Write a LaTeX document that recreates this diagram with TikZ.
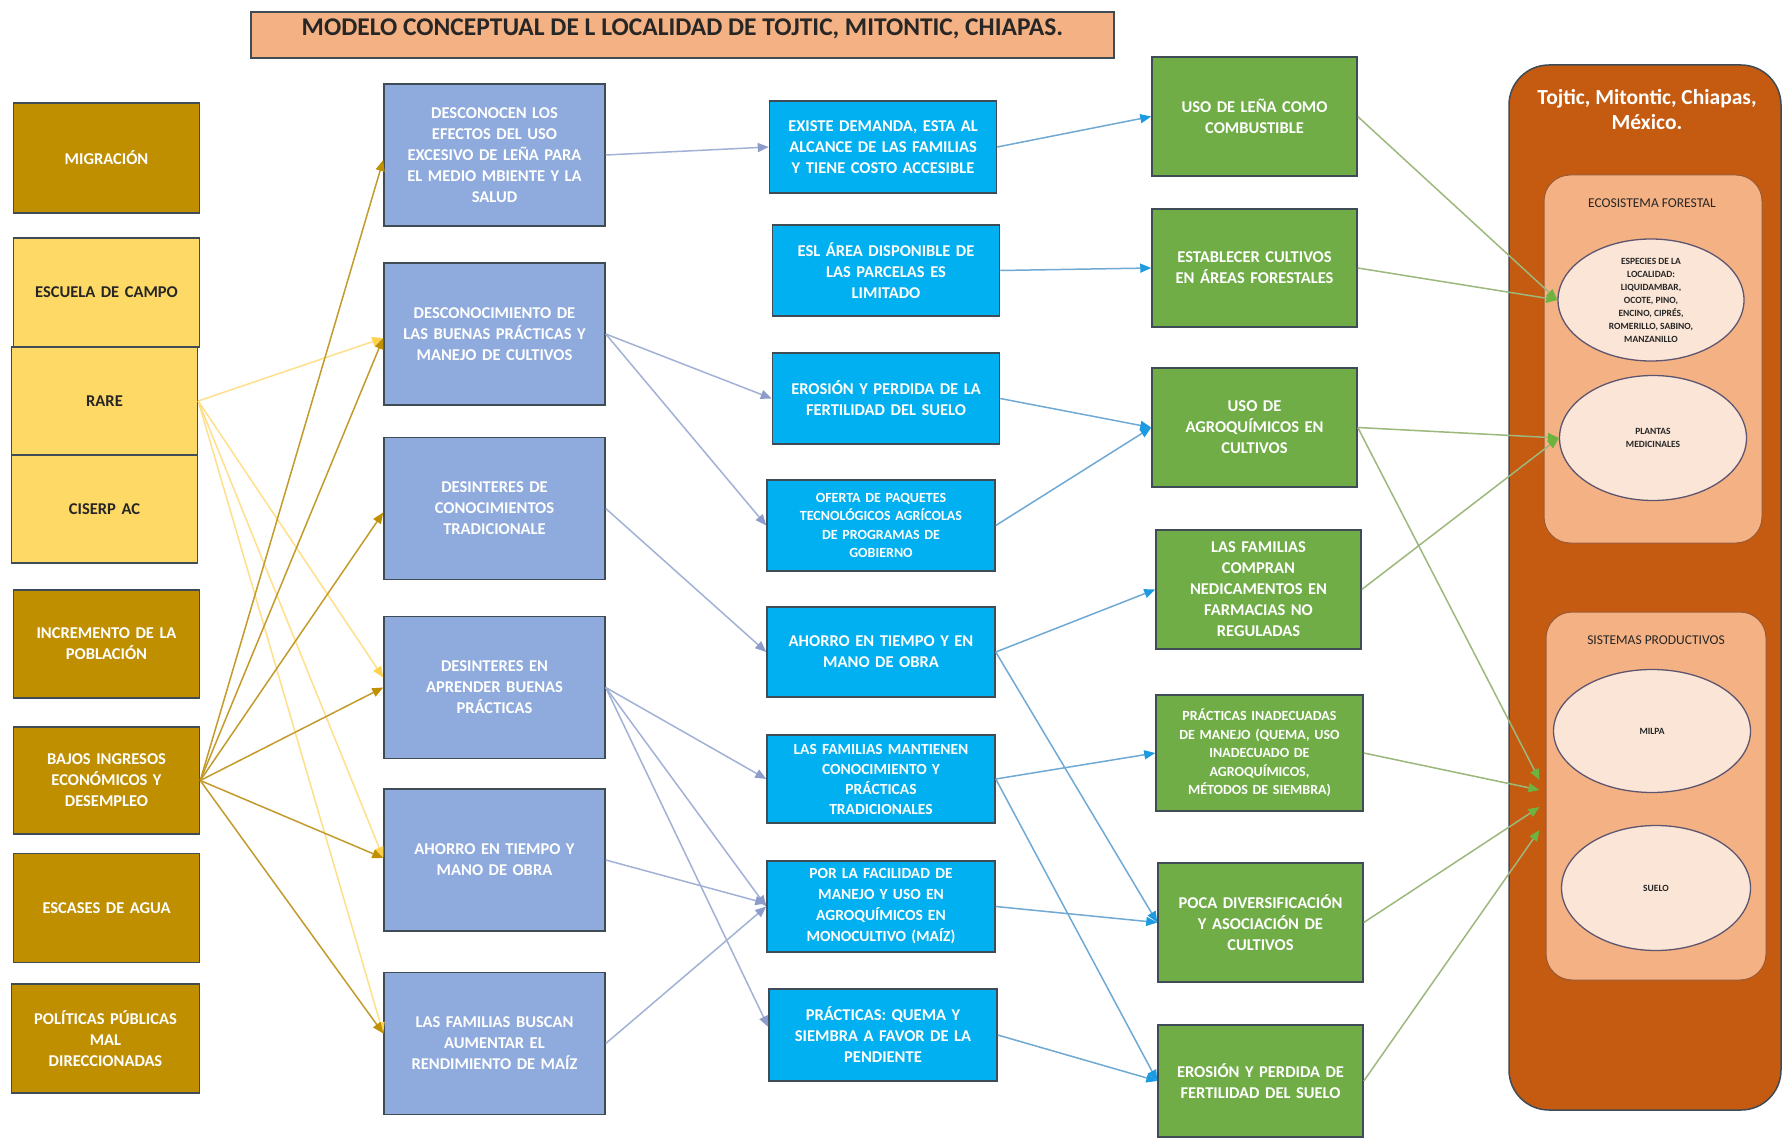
\documentclass[tikz,border=0pt]{standalone}
\usepackage{fontspec}
\setmainfont{Carlito}
\usetikzlibrary{arrows.meta,shapes.geometric,calc}
\definecolor{boxline}{HTML}{3F4B55}
\definecolor{goldfill}{HTML}{BF8F00}
\definecolor{yelfill}{HTML}{FFD966}
\definecolor{perifill}{HTML}{8FAADC}
\definecolor{skyfill}{HTML}{00B0F0}
\definecolor{grnfill}{HTML}{70AD47}
\definecolor{orgfill}{HTML}{C55A11}
\definecolor{peachfill}{HTML}{F4B183}
\definecolor{ellfill}{HTML}{FBE5D6}
\definecolor{ellline}{HTML}{5E5670}
\definecolor{innerline}{HTML}{9A5A35}
\definecolor{darktext}{HTML}{262626}
\definecolor{goldline}{HTML}{C39B2C}
\definecolor{goldhead}{HTML}{BF9000}
\definecolor{yelline}{HTML}{FFE08A}
\definecolor{yelhead}{HTML}{FFD24D}
\definecolor{periline}{HTML}{A2B1D6}
\definecolor{perihead}{HTML}{8E9CCB}
\definecolor{skyline}{HTML}{6FA9D4}
\definecolor{skyhead}{HTML}{1C9BE0}
\definecolor{grnline}{HTML}{9DB87C}
\definecolor{grnhead}{HTML}{6DB33F}
\begin{document}
\begin{tikzpicture}[x=1pt,y=-1pt,
  base/.style={draw=boxline, line width=1.5pt, align=center, inner sep=2pt,
    font=\bfseries\fontsize{16.5}{21}\selectfont},
  goldbox/.style={base, fill=goldfill, text=white, minimum width=186pt, minimum height=108pt, text width=180pt},
  yelbox/.style={base, fill=yelfill, text=darktext, minimum width=186pt, minimum height=108pt, text width=180pt},
  peribox/.style={base, fill=perifill, text=white, minimum width=221pt, minimum height=142pt, text width=215pt},
  skybox/.style={base, fill=skyfill, text=white, minimum width=227pt, minimum height=91pt, text width=222pt},
  grnbox/.style={base, fill=grnfill, text=white, minimum width=205pt, minimum height=118pt, text width=200pt},
  smalltxt/.style={font=\bfseries\fontsize{14}{18.5}\selectfont},
  ellbox/.style={ellipse, draw=ellline, line width=1.3pt, fill=ellfill, inner sep=0pt},
  elltxt/.style={font=\bfseries\fontsize{9.5}{13}\selectfont, text=darktext, align=center},
  innerbox/.style={draw=innerline, line width=1pt, fill=peachfill, rounded corners=26pt},
  conn/.style={line width=1.5pt},
  lgold/.style={conn, draw=goldline, -{Triangle[length=11pt,width=9pt,color=goldhead]}},
  lyel/.style={conn, draw=yelline, -{Triangle[length=11pt,width=9pt,color=yelhead]}},
  lperi/.style={conn, draw=periline, -{Triangle[length=11pt,width=9pt,color=perihead]}},
  lsky/.style={conn, draw=skyline, -{Triangle[length=11pt,width=9pt,color=skyhead]}},
  lgrn/.style={conn, draw=grnline, -{Triangle[length=11pt,width=9pt,color=grnhead]}}
]
\useasboundingbox (0,0) rectangle (1783,1139);
\fill[white] (0,0) rectangle (1783,1139);

% Title
\node[draw=boxline, line width=1.5pt, fill=peachfill, minimum width=863pt, minimum height=46pt,
  label={[yshift=6pt, font=\bfseries\fontsize{25.5}{28}\selectfont, text=darktext]center:MODELO CONCEPTUAL DE L LOCALIDAD DE TOJTIC, MITONTIC, CHIAPAS.}]
  (title) at (682.5,35) {};

% Column 1
\node[goldbox] (mig) at (106.5,158) [minimum height=110pt] {MIGRACIÓN};
\node[yelbox] (esc) at (106.5,292.5) [minimum height=109pt] {ESCUELA DE CAMPO};
\node[yelbox] (rare) at (104.5,401) {RARE};
\node[yelbox] (cis) at (104.5,509) {CISERP AC};
\node[goldbox] (inc) at (106.5,644) {INCREMENTO DE LA\\POBLACIÓN};
\node[goldbox] (baj) at (106.5,780.5) [minimum height=107pt] {BAJOS INGRESOS\\ECONÓMICOS Y\\DESEMPLEO};
\node[goldbox] (esca) at (106.5,908) [minimum height=109pt] {ESCASES DE AGUA};
\node[goldbox] (pol) at (105.5,1038.5) [minimum height=109pt, minimum width=188pt] {POLÍTICAS PÚBLICAS\\MAL\\DIRECCIONADAS};

% Column 2
\node[peribox] (d1) at (494.5,155) {DESCONOCEN LOS\\EFECTOS DEL USO\\EXCESIVO DE LEÑA PARA\\EL MEDIO MBIENTE Y LA\\SALUD};
\node[peribox] (d2) at (494.5,334) {DESCONOCIMIENTO DE\\LAS BUENAS PRÁCTICAS Y\\MANEJO DE CULTIVOS};
\node[peribox] (d3) at (494.5,508.5) {DESINTERES DE\\CONOCIMIENTOS\\TRADICIONALE};
\node[peribox] (d4) at (494.5,687.5) {DESINTERES EN\\APRENDER BUENAS\\PRÁCTICAS};
\node[peribox] (d5) at (494.5,860) {AHORRO EN TIEMPO Y\\MANO DE OBRA};
\node[peribox] (d6) at (494.5,1043.5) {LAS FAMILIAS BUSCAN\\AUMENTAR EL\\RENDIMIENTO DE MAÍZ};

% Column 3
\node[skybox] (c1) at (883,147) [minimum height=92pt] {EXISTE DEMANDA, ESTA AL\\ALCANCE DE LAS FAMILIAS\\Y TIENE COSTO ACCESIBLE};
\node[skybox] (c2) at (886,270.5) {ESL ÁREA DISPONIBLE DE\\LAS PARCELAS ES\\LIMITADO};
\node[skybox] (c3) at (886,398.5) {EROSIÓN Y PERDIDA DE LA\\FERTILIDAD DEL SUELO};
\node[skybox, smalltxt] (c4) at (881,525.5) [minimum width=228pt] {OFERTA DE PAQUETES\\TECNOLÓGICOS AGRÍCOLAS\\DE PROGRAMAS DE\\GOBIERNO};
\node[skybox] (c5) at (881,652) [minimum width=228pt, minimum height=90pt] {AHORRO EN TIEMPO Y EN\\MANO DE OBRA};
\node[skybox, font=\bfseries\fontsize{15.5}{20}\selectfont] (c6) at (881,779) [minimum width=228pt, minimum height=88pt] {LAS FAMILIAS MANTIENEN\\CONOCIMIENTO Y\\PRÁCTICAS\\TRADICIONALES};
\node[skybox, font=\bfseries\fontsize{15.5}{21}\selectfont] (c7) at (881,906.5) [minimum width=228pt] {POR LA FACILIDAD DE\\MANEJO Y USO EN\\AGROQUÍMICOS EN\\MONOCULTIVO (MAÍZ)};
\node[skybox] (c8) at (883,1035) [minimum width=228pt, minimum height=92pt] {PRÁCTICAS: QUEMA Y\\SIEMBRA A FAVOR DE LA\\PENDIENTE};

% Column 4
\node[grnbox] (g1) at (1254.5,116.5) [minimum height=119pt] {USO DE LEÑA COMO\\COMBUSTIBLE};
\node[grnbox] (g2) at (1254.5,268) {ESTABLECER CULTIVOS\\EN ÁREAS FORESTALES};
\node[grnbox] (g3) at (1254.5,427.5) [minimum height=119pt] {USO DE\\AGROQUÍMICOS EN\\CULTIVOS};
\node[grnbox] (g4) at (1258.5,589.5) [minimum height=119pt] {LAS FAMILIAS\\COMPRAN\\NEDICAMENTOS EN\\FARMACIAS NO\\REGULADAS};
\node[grnbox, smalltxt] (g5) at (1259.5,753) [minimum height=116pt, minimum width=207pt] {PRÁCTICAS INADECUADAS\\DE MANEJO (QUEMA, USO\\INADECUADO DE\\AGROQUÍMICOS,\\MÉTODOS DE SIEMBRA)};
\node[grnbox] (g6) at (1260.5,922.5) [minimum height=119pt] {POCA DIVERSIFICACIÓN\\Y ASOCIACIÓN DE\\CULTIVOS};
\node[grnbox] (g7) at (1260.5,1081) [minimum height=112pt] {EROSIÓN Y PERDIDA DE\\FERTILIDAD DEL SUELO};

% Right container
\node[draw=boxline, line width=1.5pt, fill=orgfill, rounded corners=40pt, minimum width=272pt, minimum height=1045pt] (cont) at (1645,587.5) {};
\node[text=white, font=\bfseries\fontsize{21.5}{25}\selectfont, align=center] (conttitle) at (1647,110) {Tojtic, Mitontic, Chiapas,\\México.};

\node[innerbox, minimum width=218pt, minimum height=368pt] (eco) at (1653,359) {};
\node[font=\fontsize{13.5}{15}\selectfont, text=darktext] (ecolabel) at (1652,203) {ECOSISTEMA FORESTAL};
\node[ellbox, minimum width=186pt, minimum height=122pt,
  label={[elltxt]center:ESPECIES DE LA\\LOCALIDAD:\\LIQUIDAMBAR,\\OCOTE, PINO,\\ENCINO, CIPRÉS,\\ROMERILLO, SABINO,\\MANZANILLO}] (e1) at (1651,300) {};
\node[ellbox, minimum width=187pt, minimum height=125pt,
  label={[elltxt]center:PLANTAS\\MEDICINALES}] (e2) at (1653,438) {};

\node[innerbox, minimum width=220pt, minimum height=368pt] (sis) at (1656,796) {};
\node[font=\fontsize{13.5}{15}\selectfont, text=darktext] (sislabel) at (1656,640) {SISTEMAS PRODUCTIVOS};
\node[ellbox, minimum width=197pt, minimum height=123pt,
  label={[elltxt]center:MILPA}] (e3) at (1652,731) {};
\node[ellbox, minimum width=189pt, minimum height=125pt,
  label={[elltxt]center:SUELO}] (e4) at (1656,888) {};

% Column 1 -> Column 2
\draw[lyel] (rare.east) -- ([yshift=-4pt]d2.west);
\draw[lyel] (rare.east) -- ([yshift=10pt]d4.west);
\draw[lyel] (rare.east) -- ([yshift=2pt]d5.west);
\draw[lyel] (rare.east) -- ([yshift=10pt]d6.west);
\draw[lgold] (baj.east) -- ([yshift=-5pt]d1.west);
\draw[lgold] (baj.east) -- ([yshift=-4pt]d2.west);
\draw[lgold] (baj.east) -- ([yshift=-4pt]d3.west);
\draw[lgold] (baj.east) -- (d4.west);
\draw[lgold] (baj.east) -- ([yshift=2pt]d5.west);
\draw[lgold] (baj.east) -- ([yshift=10pt]d6.west);

% Column 2 -> Column 3
\draw[lperi] (d1.east) -- (c1.west);
\draw[lperi] (d2.east) -- (c3.west);
\draw[lperi] (d2.east) -- (c4.west);
\draw[lperi] (d3.east) -- (c5.west);
\draw[lperi] (d4.east) -- (c6.west);
\draw[lperi] (d4.east) -- (c7.west);
\draw[lperi] (d4.east) -- ([yshift=8pt]c8.west);
\draw[lperi] (d5.east) -- ([yshift=3pt]c7.west);
\draw[lperi] (d6.east) -- (c7.west);

% Column 3 -> Column 4
\draw[lsky] (c1.east) -- (g1.west);
\draw[lsky] (c2.east) -- (g2.west);
\draw[lsky] (c3.east) -- (g3.west);
\draw[lsky] (c4.east) -- (g3.west);
\draw[lsky] (c5.east) -- (g4.west);
\draw[lsky] (c5.east) -- (g6.west);
\draw[lsky] (c6.east) -- (g5.west);
\draw[lsky] (c6.east) -- (g7.west);
\draw[lsky] (c7.east) -- (g6.west);
\draw[lsky] (c8.east) -- (g7.west);

% Column 4 -> container
\draw[lgrn] (g1.east) -- (e1.west);
\draw[lgrn] (g2.east) -- (e1.west);
\draw[lgrn] (g3.east) -- (e2.west);
\draw[lgrn] (g4.east) -- (e2.west);
\draw[lgrn] (g3.east) -- ([yshift=16pt,xshift=-6pt]sis.west);
\draw[lgrn] (g5.east) -- ([yshift=6pt,xshift=-6pt]sis.west);
\draw[lgrn] (g6.east) -- ([yshift=-11pt,xshift=-6pt]sis.west);
\draw[lgrn] (g7.east) -- ([yshift=-34pt,xshift=-6pt]sis.west);
\end{tikzpicture}
\end{document}
